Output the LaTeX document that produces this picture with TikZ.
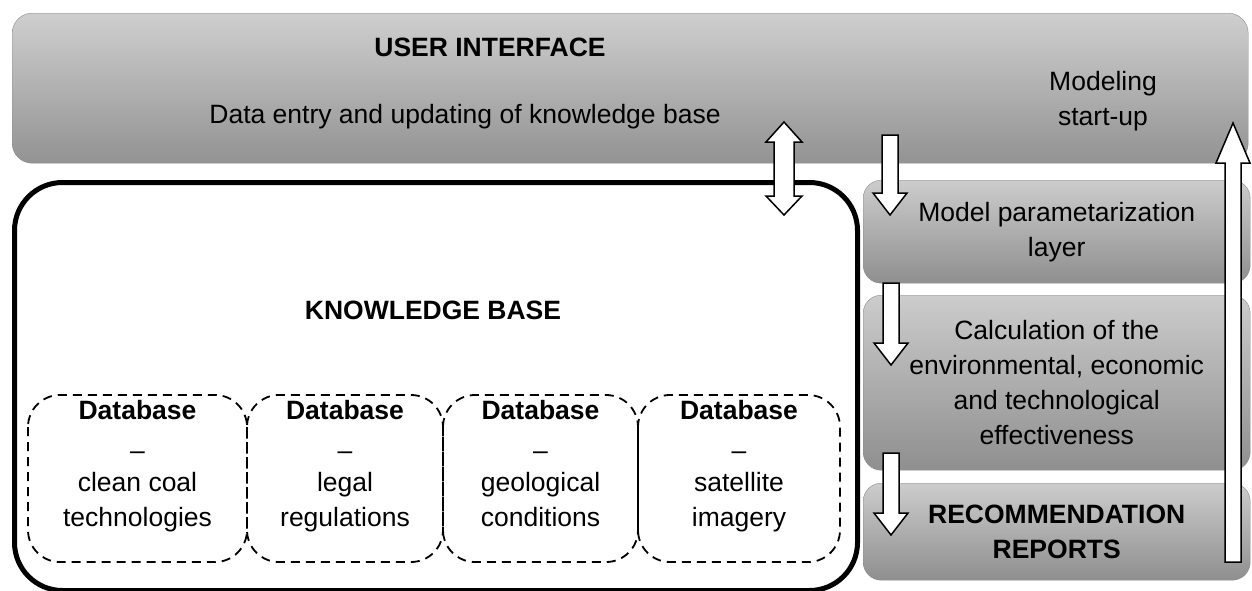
\documentclass[tikz,border=0pt]{standalone}
\usepackage{fontspec}
\setmainfont{Liberation Sans}
\tikzset{
  panel/.style={draw=gray!90, rounded corners=20pt, top color=gray!38, bottom color=gray!85},
  layer/.style={draw=gray!90, rounded corners=18pt, top color=gray!40, bottom color=gray!88,
    minimum width=387pt, anchor=north west, align=center, inner sep=0pt},
  dbbox/.style={draw, dash pattern=on 9pt off 6pt, line width=1.8pt, rounded corners=32pt},
  label/.style={inner sep=0pt, align=center},
  hollow/.style={draw, fill=white, line width=1.5pt, line join=miter},
}
% block arrows: centre x, start y, tip y
\newcommand{\arrowdown}[3]{\draw[hollow] ({#1-8},#2) -- ({#1+8},#2) -- ({#1+8},{#3-22}) -- ({#1+17},{#3-22}) -- (#1,#3) -- ({#1-17},{#3-22}) -- ({#1-8},{#3-22}) -- cycle;}
\newcommand{\arrowup}[3]{\draw[hollow] ({#1-8},#2) -- ({#1+8},#2) -- ({#1+8},{#3+40}) -- ({#1+17},{#3+40}) -- (#1,#3) -- ({#1-17},{#3+40}) -- ({#1-8},{#3+40}) -- cycle;}
\begin{document}
\begin{tikzpicture}[x=1pt, y=-1pt, font=\fontsize{26.5}{35}\selectfont]
    \useasboundingbox (0,0) rectangle (1252,590);

    % user interface
    \node[panel, minimum width=1236pt, minimum height=150pt, anchor=north west] (ui) at (12,13) {};
    \node[label] (uititle) at (490,47) {\textbf{USER INTERFACE}};
    \node[label] (entry) at (465,117) {Data entry and updating of knowledge base};
    \node[label] (startup) at (1103,101) {Modeling\\start-up};

    % knowledge base
    \node[draw, line width=5pt, rounded corners=48pt, minimum width=843pt, minimum height=408pt, anchor=north west] (kb) at (12,180) {};
    \node[label] (kbtitle) at (433,310) {\textbf{KNOWLEDGE BASE}};
    \foreach \i/\xl/\xr/\what in {1/28/247/{clean coal\\technologies}, 2/247/443/{legal\\regulations},
                                 3/443/638/{geological\\conditions}, 4/638/840/{satellite\\imagery}} {
        \draw[dbbox] (\xl,395) rectangle (\xr,562);
        \node[label, anchor=north] (db\i) at ({(\xl+\xr)/2},400) {\textbf{Database}\\[5pt]--\\[-3pt]\what};
    }

    % model layers
    \node[layer, minimum height=103pt] (param) at (863,180) {Model parametarization\\layer};
    \node[layer, minimum height=175pt] (calc) at (863,295) {Calculation of the\\environmental, economic\\and technological\\effectiveness};
    \node[layer, minimum height=97pt] (report) at (863,483) {\textbf{RECOMMENDATION}\\\textbf{REPORTS}};

    % arrows
    \draw[hollow] (774,142) -- (766,142) -- (784,122) -- (802,142) -- (794,142) -- (794,196) -- (802,196)
        -- (784,215) -- (766,196) -- (774,196) -- cycle;
    \arrowdown{890}{135}{215}
    \arrowdown{891}{283}{365}
    \arrowdown{891}{453}{535}
    \arrowup{1233}{562}{123}
\end{tikzpicture}
\end{document}
